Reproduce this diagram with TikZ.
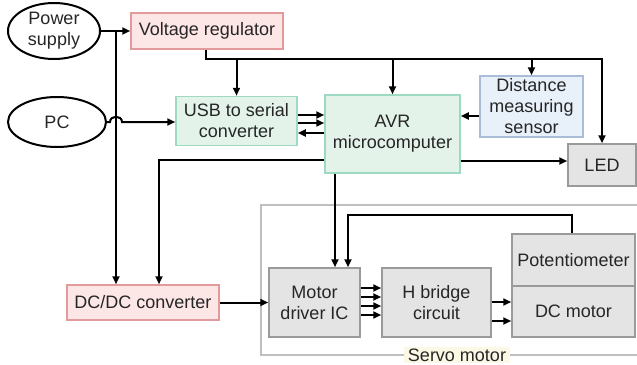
\documentclass[tikz,border=0pt]{standalone}
\usepackage{fontspec}
\setmainfont{Liberation Sans}
\usetikzlibrary{arrows.meta,shapes.geometric,calc}
\definecolor{pinkfill}{HTML}{FDE6E6}
\definecolor{pinkdraw}{HTML}{E39A9C}
\definecolor{greenfill}{HTML}{E3F3EA}
\definecolor{greendraw}{HTML}{9ED9C1}
\definecolor{bluefill}{HTML}{E8F0FA}
\definecolor{bluedraw}{HTML}{A9BDD9}
\definecolor{grayfill}{HTML}{E4E4E4}
\definecolor{graydraw}{HTML}{9A9A9A}
\definecolor{txt}{HTML}{262626}
\definecolor{framec}{HTML}{BFBFBF}
\definecolor{labelfill}{HTML}{FCF8E6}
\begin{document}
\begin{tikzpicture}[x=1pt,y=-1pt,
  every node/.style={font=\fontsize{18}{21}\selectfont, text=txt, align=center, inner sep=0pt},
  ell/.style={ellipse, draw=black, line width=2pt, fill=white},
  boxbase/.style={rectangle, line width=1.5pt},
  pinkbox/.style={boxbase, fill=pinkfill, draw=pinkdraw},
  greenbox/.style={boxbase, fill=greenfill, draw=greendraw},
  bluebox/.style={boxbase, fill=bluefill, draw=bluedraw},
  graybox/.style={boxbase, fill=grayfill, draw=graydraw},
  conn/.style={line width=2pt, draw=black},
  arr/.style={conn, -{Triangle[length=8pt,width=7pt]}},
  framestyle/.style={draw=framec, line width=1.5pt}
]
\useasboundingbox (0,0) rectangle (637,364);

% servo frame
\draw[framestyle] (637,205) -- (261,205) -- (261,355) -- (637,355);
\node[fill=labelfill, inner xsep=4pt, inner ysep=2pt] (servo) at (457,355) {Servo motor};

% nodes
\node[ell, minimum width=92pt, minimum height=56pt] (ps) at (54,31) {Power\\supply};
\node[ell, minimum width=98pt, minimum height=50pt] (pc) at (57,122) {PC};
\node[pinkbox, minimum width=152pt, minimum height=36pt] (vr) at (207,31) {Voltage regulator};
\node[greenbox, minimum width=121pt, minimum height=49pt] (usb) at (236.5,121) {USB to serial\\converter};
\node[greenbox, minimum width=135pt, minimum height=78pt] (avr) at (392.5,134) {AVR\\microcomputer};
\node[bluebox, minimum width=103pt, minimum height=61pt] (ds) at (531.5,106.5) {Distance\\measuring\\sensor};
\node[graybox, minimum width=68pt, minimum height=42pt] (led) at (602,165) {LED};
\node[pinkbox, minimum width=152pt, minimum height=35pt] (dcdc) at (143,302.5) {DC/DC converter};
\node[graybox, minimum width=91pt, minimum height=69pt] (mdi) at (314.5,302.5) {Motor\\driver IC};
\node[graybox, minimum width=109pt, minimum height=69pt] (hb) at (436.5,302.5) {H bridge\\circuit};
\node[graybox, minimum width=123pt, minimum height=52pt] (pot) at (573.5,260) {Potentiometer};
\node[graybox, minimum width=123pt, minimum height=51pt] (dcm) at (573.5,311.5) {DC motor};

% connectors
\coordinate (j1) at (116,31);
\coordinate (bus) at (206,59);
\draw[arr] (ps.east) -- (vr.west);
\draw[arr] (j1) -- (j1 |- dcdc.north);
\draw[arr] (pc.east) -- (110,122) .. controls (110,115) and (122,115) .. (122,122) -- (usb.west |- pc.east);
\draw[arr] (vr.south -| bus) -- (bus) -| (led.north);
\draw[arr] (usb.north |- bus) -- (usb.north);
\draw[arr] (avr.north |- bus) -- (avr.north);
\draw[arr] (ds.north |- bus) -- (ds.north);
\draw[arr] (usb.east |- 0,115) -- (avr.west |- 0,115);
\draw[arr] (usb.east |- 0,123) -- (avr.west |- 0,123);
\draw[arr] (avr.west |- 0,133) -- (usb.east |- 0,133);
\draw[arr] (ds.west |- 0,116) -- (avr.east |- 0,116);
\draw[arr] (avr.east |- 0,161) -- (led.west |- 0,161);
\draw[arr] (avr.west |- 0,160) -| (dcdc.north -| 159,0);
\draw[arr] (avr.south -| 335,0) -- (mdi.north -| 335,0);
\draw[arr] (dcdc.east) -- (mdi.west);
\draw[arr] (pot.north -| 572,0) |- (348,215) -- (mdi.north -| 348,0);
\foreach \yy in {288,297,306,315}
  \draw[arr] (mdi.east |- 0,\yy) -- (hb.west |- 0,\yy);
\foreach \yy in {302,321}
  \draw[arr] (hb.east |- 0,\yy) -- (dcm.west |- 0,\yy);
\end{tikzpicture}
\end{document}
